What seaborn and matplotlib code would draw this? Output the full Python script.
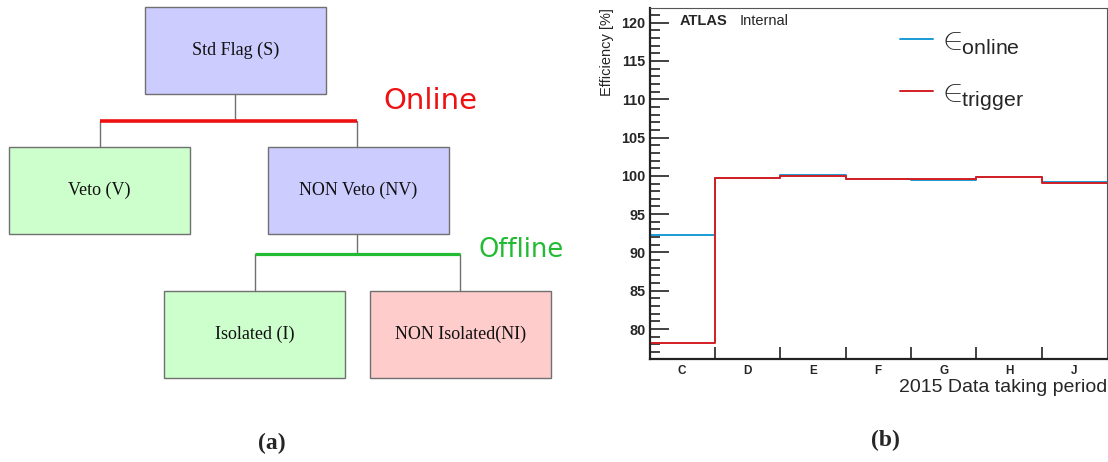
import numpy as np
import pandas as pd
import seaborn as sns
import matplotlib.pyplot as plt
from matplotlib.patches import Rectangle

# Efficiency per 2015 data taking period
periods = ["C", "D", "E", "F", "G", "H", "J"]
eff_online = [92.3, 99.7, 100.1, 99.6, 99.5, 99.8, 99.2]
eff_trigger = [78.2, 99.7, 100.0, 99.6, 99.6, 99.8, 99.1]

# Flag tree diagram (pixel layout of panel a)
box_labels = ["Std Flag (S)", "Veto (V)", "NON Veto (NV)", "Isolated (I)", "NON Isolated(NI)"]
box_colors = ["#ccccff", "#ccffcc", "#ccccff", "#ccffcc", "#ffcccc"]
box_xy = [(145, 7), (9, 147), (268, 147), (164, 291), (370, 291)]
box_size = (181, 87)

sns.set_theme(style="ticks")
plt.rcParams["font.family"] = ["Liberation Sans", "DejaVu Sans"]
plt.rcParams["mathtext.fontset"] = "custom"
plt.rcParams["mathtext.rm"] = "Liberation Sans"
plt.rcParams["mathtext.it"] = "Liberation Sans:italic"

W, H = 1108, 462
fig = plt.figure(figsize=(W / 100, H / 100), dpi=100)

# ---- panel (a): diagram
axd = fig.add_axes([0, 0, 560 / W, 1])
axd.set_xlim(0, 560)
axd.set_ylim(H, 0)
axd.axis("off")

edge = "#707070"
for lab, col, (x0, y0) in zip(box_labels, box_colors, box_xy):
    bw, bh = box_size
    axd.add_patch(Rectangle((x0, y0), bw, bh, facecolor=col, edgecolor=edge, lw=1))
    axd.text(x0 + bw / 2, y0 + bh / 2, lab, ha="center", va="center",
             family="Liberation Serif", fontsize=13, color="#111111")

# connectors
axd.plot([235, 235], [94, 121], color=edge, lw=1)
axd.plot([100, 100], [121, 147], color=edge, lw=1)
axd.plot([357, 357], [121, 147], color=edge, lw=1)
axd.plot([100, 357], [121, 121], color="#ee1111", lw=2.6, solid_capstyle="butt")
axd.text(430, 101, "Online", ha="center", va="center", color="#ee1111",
         family="DejaVu Sans", fontsize=21)

axd.plot([357, 357], [234, 254], color=edge, lw=1)
axd.plot([255, 255], [254, 291], color=edge, lw=1)
axd.plot([460, 460], [254, 291], color=edge, lw=1)
axd.plot([255, 460], [254, 254], color="#22bb33", lw=2.3, solid_capstyle="butt")
axd.text(521, 250, "Offline", ha="center", va="center", color="#22bb33",
         family="DejaVu Sans", fontsize=18.5)

axd.text(272, 443, "(a)", ha="center", va="center", family="Liberation Serif",
         fontweight="bold", fontsize=17)

# ---- panel (b): efficiency histogram
l, r, t, b = 649.5, 1107, 8, 359
ax = fig.add_axes([l / W, 1 - b / H, (r - l) / W, (b - t) / H])

edges = np.arange(len(periods) + 1)
df = pd.DataFrame({
    "edge": edges,
    "online": eff_online + [eff_online[-1]],
    "trigger": eff_trigger + [eff_trigger[-1]],
})
sns.lineplot(data=df, x="edge", y="online", ax=ax, drawstyle="steps-post",
             color="#1a9ad6", lw=1.4, label=r"$\in_{\!\!\mathrm{online}}$")
sns.lineplot(data=df, x="edge", y="trigger", ax=ax, drawstyle="steps-post",
             color="#d41e24", lw=1.4, label=r"$\in_{\!\!\mathrm{trigger}}$")

ax.set_xlim(0, len(periods))
ax.set_ylim(76.1, 121.9)
ax.set_xticks(edges[1:-1])
ax.set_xticklabels([])
ax.set_xticks(edges[:-1] + 0.5, minor=True)
ax.set_xticklabels(periods, minor=True, fontweight="bold", fontsize=8.5)
ax.tick_params(axis="x", which="major", direction="in", length=9, width=1.2, color="#222222")
ax.tick_params(axis="x", which="minor", length=0, pad=4)
ax.set_yticks(np.arange(80, 121, 5))
ax.set_yticks(np.arange(77, 122, 1), minor=True)
ax.tick_params(axis="y", which="major", direction="in", length=14, width=1.2,
               labelsize=10.4, color="#222222", pad=3)
ax.tick_params(axis="y", which="minor", direction="in", length=7, width=1.2, color="#222222")
for lab in ax.get_yticklabels():
    lab.set_fontweight("bold")

ax.set_xlabel("2015 Data taking period", fontsize=14, loc="right", labelpad=2)
ax.set_ylabel("Efficiency [%]", fontsize=10.5, loc="top", labelpad=5)

for side in ["left", "bottom"]:
    ax.spines[side].set_linewidth(1.6)
    ax.spines[side].set_color("#222222")
for side in ["top", "right"]:
    ax.spines[side].set_visible(True)
    ax.spines[side].set_linewidth(0.8)
    ax.spines[side].set_color("#555555")

ax.text(0.066, 0.962, "ATLAS", transform=ax.transAxes, fontweight="bold",
        fontsize=10.5, va="center", ha="left")
ax.text(0.197, 0.962, "Internal", transform=ax.transAxes,
        fontsize=10.5, va="center", ha="left")

leg = ax.legend(loc="upper left", bbox_to_anchor=(0.487, 1.025), frameon=False,
                fontsize=22, handlelength=1.1, handletextpad=0.12, labelspacing=0.7)

fig.text(885 / W, 1 - 440 / H, "(b)", ha="center", va="center", family="Liberation Serif",
         fontweight="bold", fontsize=17)

fig.savefig("out.png", dpi=100)
